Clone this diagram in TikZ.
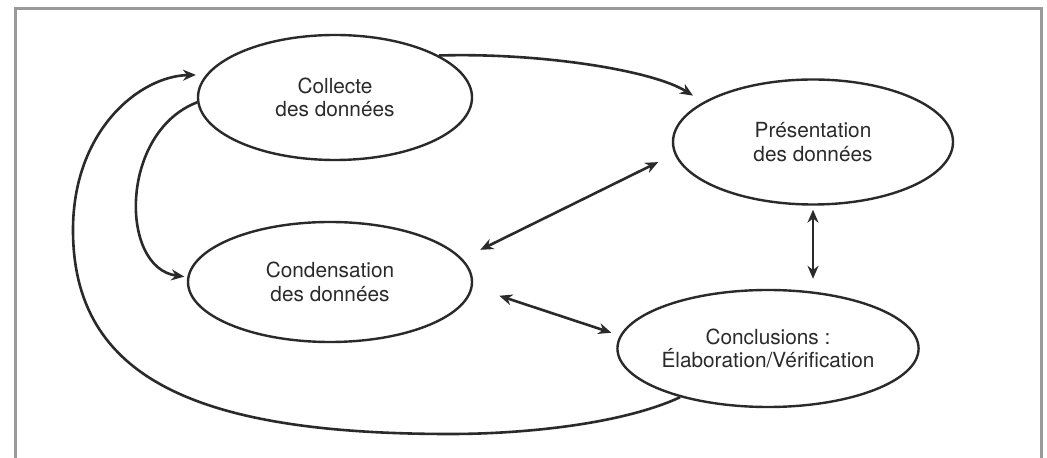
\documentclass[tikz,border=0pt]{standalone}
\usepackage{fontspec}
\setmainfont{TeX Gyre Heros}
\usetikzlibrary{arrows.meta,shapes.geometric}
\definecolor{cadre}{HTML}{9a9a9a}
\definecolor{trait}{HTML}{2a2a2a}

\begin{document}
\begin{tikzpicture}[
  x=0.5pt, y=-0.5pt,
  bulle/.style={draw=trait, ellipse, line width=1.2pt, align=center, inner sep=0pt, font=\fontsize{10.4}{11.8}\selectfont, text=trait},
  arr/.style={-{Stealth[length=6.5pt,width=5.5pt]}, line width=1.3pt, draw=trait},
  darr/.style={{Stealth[length=6.5pt,width=5.5pt]}-{Stealth[length=6.5pt,width=5.5pt]}, line width=1.3pt, draw=trait}
]
\useasboundingbox (0,0) rectangle (1047,458);
\draw[cadre, line width=1.5pt] (15,458) -- (15,9) -- (1041,9) -- (1041,458);

\node[bulle, minimum width=137pt, minimum height=62.5pt] (coll) at (335,97.5) {Collecte\\des données};
\node[bulle, minimum width=140pt, minimum height=62.5pt] (pres) at (813,142) {Présentation\\des données};
\node[bulle, minimum width=142pt, minimum height=60pt] (cond) at (330,282) {Condensation\\des données};
\node[bulle, minimum width=145pt, minimum height=58.5pt] (conc) at (768,348.5) {Conclusions :\\Élaboration/Vérification};

\draw[arr, shorten >=6pt] (coll.22) .. controls +(100,-3) and +(-51,-32) .. (pres.160);
\draw[arr, shorten >=1.5pt] (coll.182) .. controls +(-78,30) and +(-68,-9) .. (cond.178);
\draw[arr, shorten >=5pt] (conc.209) .. controls (620,425) and (520,434) .. (450,434)
  .. controls (200,434) and (73,380) .. (73,230)
  .. controls (73,130) and (140,76) .. (coll.170);
\draw[darr, shorten <=10pt, shorten >=9pt] (cond.10) -- (pres.185);
\draw[darr, shorten <=14pt, shorten >=4.5pt] (cond.358) -- (conc.175);
\draw[darr, shorten <=2pt, shorten >=5pt] (pres.south) -- (pres.south |- conc.north);
\end{tikzpicture}
\end{document}
